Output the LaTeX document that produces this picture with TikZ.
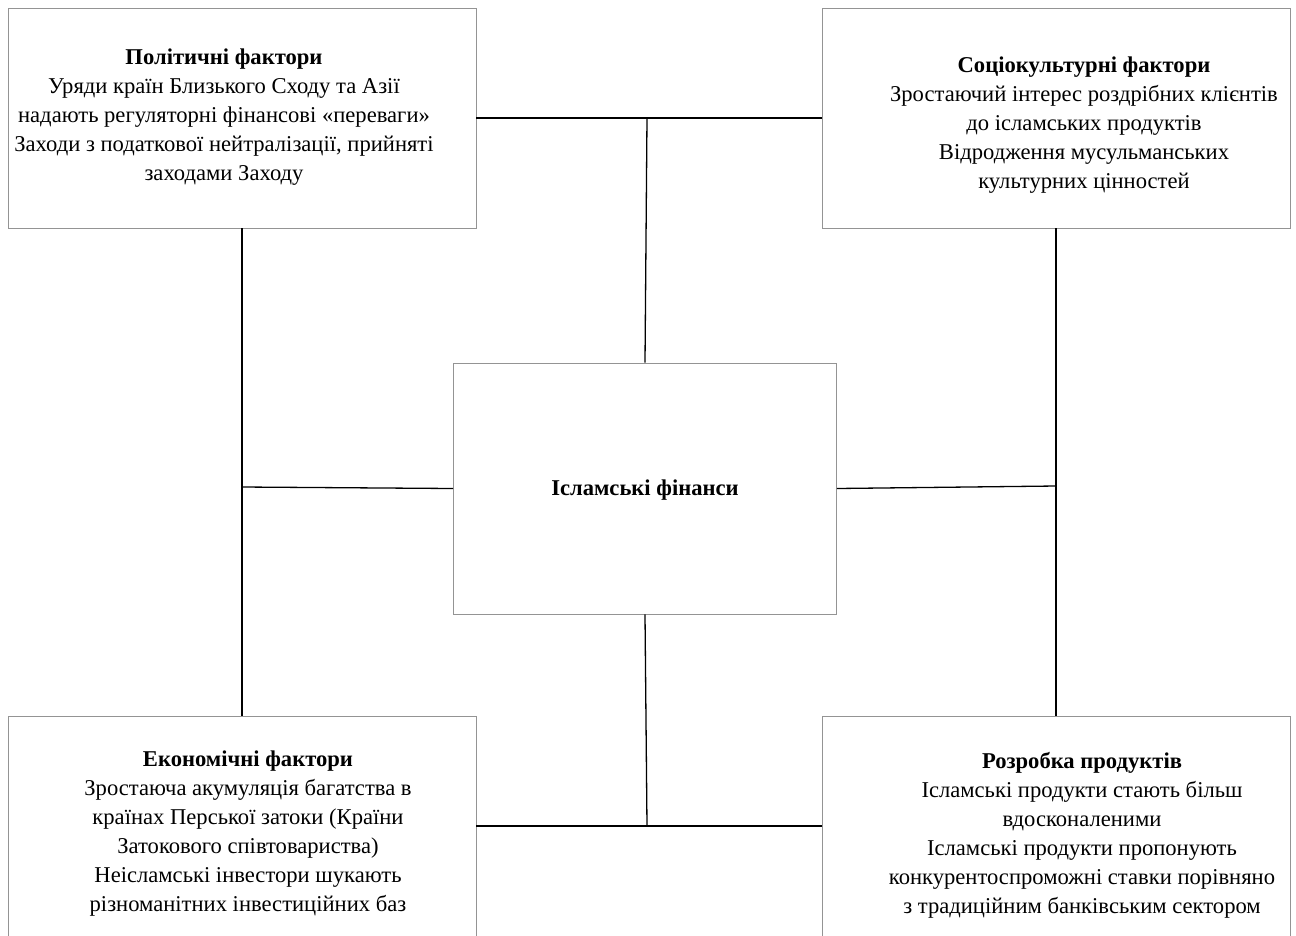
\documentclass[tikz,border=0pt]{standalone}
\usepackage{fontspec}
\setmainfont{Liberation Serif}
\usepackage{tikz}
\tikzset{
box/.style={rectangle, draw=black!42, line width=0.9pt, minimum width=468pt, minimum height=220pt, inner sep=0pt},
txt/.style={align=center, inner sep=0pt, font=\fontsize{22.6}{29}\selectfont},
link/.style={draw=black, line width=1.3pt}
}

\begin{document}
\begin{tikzpicture}[x=1pt,y=-1pt]
\useasboundingbox (0,0) rectangle (1296,935);

\node[box] (pol) at (242,118) {};
\node[box] (soc) at (1056,118) {};
\node[box] (eco) at (242,826) {};
\node[box] (dev) at (1056,826) {};
\node[box, minimum width=383pt, minimum height=251pt] (fin) at (645,488.5) {};

\node[txt] (poltxt) at (224,117) {\textbf{Політичні фактори}\\Уряди країн Близького Сходу та Азії\\надають регуляторні фінансові «переваги»\\Заходи з податкової нейтралізації, прийняті\\заходами Заходу};
\node[txt] (soctxt) at (1084,125) {\textbf{Соціокультурні фактори}\\Зростаючий інтерес роздрібних клієнтів\\до ісламських продуктів\\Відродження мусульманських\\культурних цінностей};
\node[txt] (ecotxt) at (248,834) {\textbf{Економічні фактори}\\Зростаюча акумуляція багатства в\\країнах Перської затоки (Країни\\Затокового співтовариства)\\Неісламські інвестори шукають\\різноманітних інвестиційних баз};
\node[txt] (devtxt) at (1082,835) {\textbf{Розробка продуктів}\\Ісламські продукти стають більш\\вдосконаленими\\Ісламські продукти пропонують\\конкурентоспроможні ставки порівняно\\з традиційним банківським сектором};
\node[txt] (fintxt) at (645,490) {\textbf{Ісламські фінанси}};

\coordinate (t) at (647,118);
\coordinate (l) at (242,487);
\coordinate (r) at (1056,486);
\coordinate (b) at (647,826);

\draw[link] (pol.east |- t) -- (soc.west |- t);
\draw[link] (eco.east |- b) -- (dev.west |- b);
\draw[link] (pol.south -| l) -- (eco.north -| l);
\draw[link] (soc.south -| r) -- (dev.north -| r);
\draw[link] (t) -- (fin.north);
\draw[link] (fin.south) -- (b);
\draw[link] (l) -- (fin.west);
\draw[link] (fin.east) -- (r);
\end{tikzpicture}
\end{document}
